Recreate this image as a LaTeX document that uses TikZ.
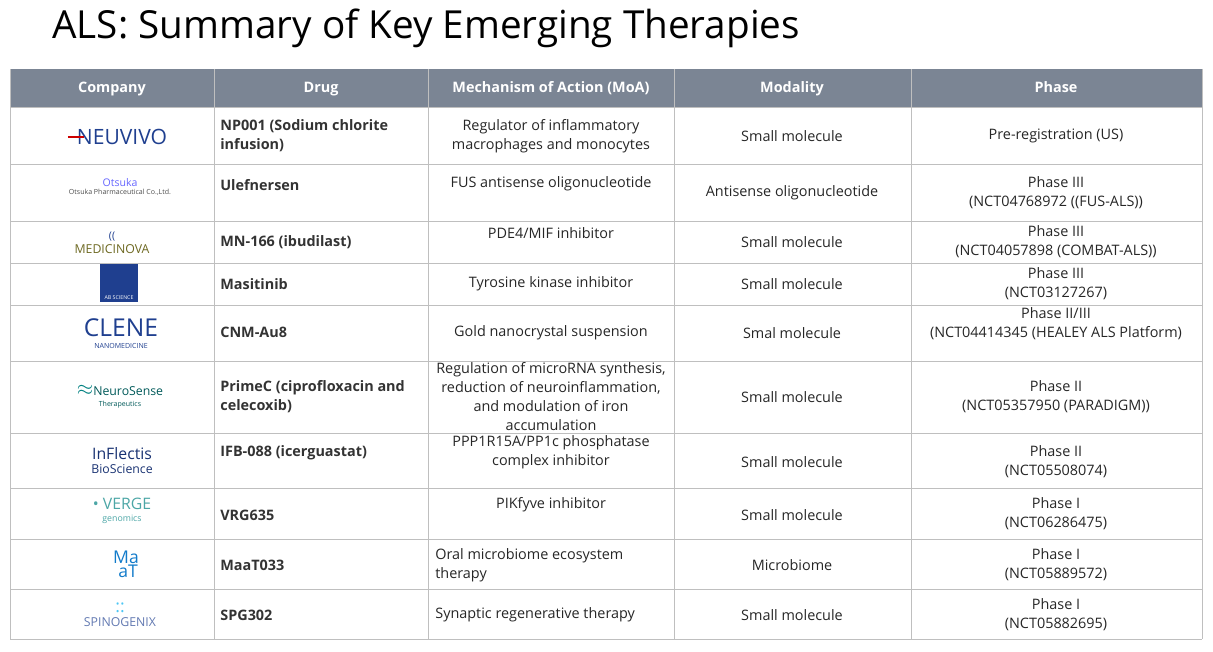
\documentclass[tikz,border=0pt]{standalone}
\usepackage{fontspec}
\setmainfont{Open Sans}
\usetikzlibrary{positioning}
\definecolor{headgrey}{HTML}{7B8594}
\definecolor{gridgrey}{HTML}{BFBFBF}
\definecolor{logoblue}{HTML}{1F3F8F}
\begin{document}
\begin{tikzpicture}[
        x=0.02cm, y=-0.02cm,
        cell/.style={align=center, font=\fontsize{8.2}{10.8}\selectfont, text=black!85, inner sep=0pt},
        drug/.style={anchor=west, align=left, font=\fontsize{8.2}{10.8}\selectfont\bfseries, text=black!80, inner sep=0pt},
        head/.style={font=\fontsize{8.2}{10}\selectfont\bfseries, text=white, inner sep=0pt, text height=6pt, text depth=2pt},
        logo/.style={align=center, inner sep=0pt, font=\fontsize{8}{9}\selectfont\bfseries}
    ]
        \useasboundingbox (0,0) rectangle (1213,652);
        \node[anchor=west, font=\fontsize{22}{26}\selectfont, inner sep=0pt] (title) at (52,28) {ALS: Summary of Key Emerging Therapies};

        % Header
        \fill[headgrey] (10,69) rectangle (1202,107);
        \node[head] (hcomp) at (112,89) {Company};
        \node[head] (hdrug) at (321,89) {Drug};
        \node[head] (hmoa) at (551,89) {Mechanism of Action (MoA)};
        \node[head] (hmod) at (792,89) {Modality};
        \node[head] (hphase) at (1056,89) {Phase};

        % Grid
        \foreach \y in {107,164,221,263,305,361,433,488,539,589,639}
            \draw[gridgrey] (10,\y) -- (1202,\y);
        \foreach \x in {10,214,428,674,911,1202}
            \draw[gridgrey] (\x,69) -- (\x,639);

        % Logos
        \node[logo, text=logoblue, font=\fontsize{12}{12}\selectfont] (lneu) at (122,137) {NEUVIVO};
        \draw[red!80!black, line width=1pt] ([xshift=-5pt]lneu.west) -- ([xshift=4pt]lneu.west);
        \node[logo, font=\fontsize{4}{5}\selectfont, text=black!70] (lots) at (120,187) {{\color{blue!60}\fontsize{6}{6}\selectfont Otsuka}\\Otsuka Pharmaceutical Co.,Ltd.};
        \node[logo, text=olive!70!black, font=\fontsize{7}{8}\selectfont\rmfamily] (lmed) at (112,243) {{\color{logoblue}\fontsize{6}{6}\selectfont ((}\\MEDICINOVA};
        \node[logo, fill=logoblue, text=white, minimum size=38*0.02cm, font=\fontsize{3}{4}\selectfont] (lab) at (119,283) {};
        \node[logo, text=white, font=\fontsize{3}{4}\selectfont] (labt) at (119,298) {AB SCIENCE};
        \node[logo, text=logoblue, font=\fontsize{14}{14}\selectfont] (lcle) at (121,328) {CLENE};
        \node[logo, text=logoblue, font=\fontsize{4}{4}\selectfont, below=3pt of lcle] (lclet) {NANOMEDICINE};
        \node[logo, text=teal!70!black, font=\fontsize{7}{8}\selectfont] (lnsn) at (120,397) {{\color{teal}\fontsize{12}{8}\selectfont $\approx$}NeuroSense\\[-2pt]{\fontsize{4}{4}\selectfont Therapeutics}};
        \node[logo, text=logoblue!80!black, font=\fontsize{9}{9}\selectfont] (linf) at (122,461) {InFlectis\\[-1pt]{\fontsize{7}{7}\selectfont\mdseries BioScience}};
        \node[logo, text=teal!70, font=\fontsize{9}{9}\selectfont] (lver) at (122,511) {\textbullet\ VERGE\\[-2pt]{\fontsize{5}{5}\selectfont genomics}};
        \node[logo, text=cyan!60!blue, font=\fontsize{10}{8}\selectfont\rmfamily] (lmaa) at (126,557) {Ma};
        \node[logo, text=cyan!60!blue, font=\fontsize{10}{8}\selectfont\rmfamily] (lmab) at (128,571) {aT};
        \node[logo, text=logoblue!70, font=\fontsize{7}{8}\selectfont\rmfamily] (lspi) at (120,615) {{\color{cyan!70}\fontsize{10}{8}\selectfont ::}\\SPINOGENIX};

        % Drugs
        \node[drug] (d1) at (220,136) {NP001 (Sodium chlorite\\infusion)};
        \node[drug] (d2) at (220,185) {Ulefnersen};
        \node[drug] (d3) at (220,242) {MN-166 (ibudilast)};
        \node[drug] (d4) at (220,284) {Masitinib};
        \node[drug] (d5) at (220,332) {CNM-Au8};
        \node[drug] (d6) at (220,397) {PrimeC (ciprofloxacin and\\celecoxib)};
        \node[drug] (d7) at (220,453) {IFB-088 (icerguastat)};
        \node[drug] (d8) at (220,515) {VRG635};
        \node[drug] (d9) at (220,565) {MaaT033};
        \node[drug] (d10) at (220,615) {SPG302};

        % Mechanism
        \node[cell] (m1) at (551,136) {Regulator of inflammatory\\macrophages and monocytes};
        \node[cell] (m2) at (551,184) {FUS antisense oligonucleotide};
        \node[cell] (m3) at (551,233) {PDE4/MIF inhibitor};
        \node[cell] (m4) at (551,284) {Tyrosine kinase inhibitor};
        \node[cell] (m5) at (551,333) {Gold nanocrystal suspension};
        \node[cell] (m6) at (551,397) {Regulation of microRNA synthesis,\\reduction of neuroinflammation,\\and modulation of iron\\accumulation};
        \node[cell] (m7) at (551,452) {PPP1R15A/PP1c phosphatase\\complex inhibitor};
        \node[cell] (m8) at (551,505) {PIKfyve inhibitor};
        \node[cell, anchor=west, align=left] (m9) at (435,565) {Oral microbiome ecosystem\\therapy};
        \node[cell, anchor=west] (m10) at (435,615) {Synaptic regenerative therapy};

        % Modality
        \node[cell] (o1) at (792,136) {Small molecule};
        \node[cell] (o2) at (792,193) {Antisense oligonucleotide};
        \node[cell] (o3) at (792,242) {Small molecule};
        \node[cell] (o4) at (792,284) {Small molecule};
        \node[cell] (o5) at (792,333) {Smal molecule};
        \node[cell] (o6) at (792,397) {Small molecule};
        \node[cell] (o7) at (792,462) {Small molecule};
        \node[cell] (o8) at (792,515) {Small molecule};
        \node[cell] (o9) at (792,565) {Microbiome};
        \node[cell] (o10) at (792,615) {Small molecule};

        % Phase
        \node[cell] (p1) at (1056,136) {Pre-registration (US)};
        \node[cell] (p2) at (1056,193) {Phase III\\(NCT04768972 ((FUS-ALS))};
        \node[cell] (p3) at (1056,242) {Phase III\\(NCT04057898 (COMBAT-ALS))};
        \node[cell] (p4) at (1056,284) {Phase III\\(NCT03127267)};
        \node[cell] (p5) at (1056,324) {Phase II/III\\(NCT04414345 (HEALEY ALS Platform)};
        \node[cell] (p6) at (1056,397) {Phase II\\(NCT05357950 (PARADIGM))};
        \node[cell] (p7) at (1056,462) {Phase II\\(NCT05508074)};
        \node[cell] (p8) at (1056,514) {Phase I\\(NCT06286475)};
        \node[cell] (p9) at (1056,565) {Phase I\\(NCT05889572)};
        \node[cell] (p10) at (1056,615) {Phase I\\(NCT05882695)};
    \end{tikzpicture}
\end{document}
